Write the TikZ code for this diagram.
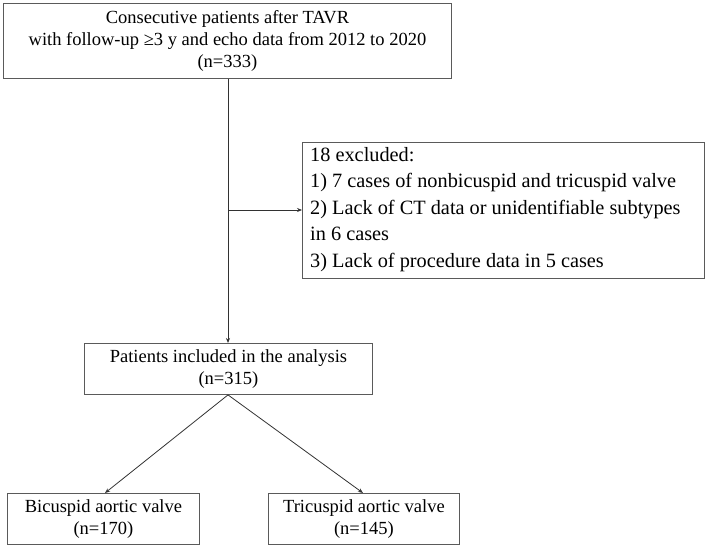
\documentclass[tikz,border=0pt]{standalone}
\usepackage{fontspec}
\setmainfont{Liberation Serif}
\usetikzlibrary{arrows.meta}
\definecolor{edge}{RGB}{90,90,90}
\definecolor{lin}{RGB}{50,50,50}
\tikzset{
  box/.style={draw=edge, line width=0.9pt, inner sep=0pt, align=center,
    font=\fontsize{18.5}{22}\selectfont, anchor=north west},
  conn/.style={draw=lin, line width=0.8pt, -{Stealth[length=5pt,width=4pt]}},
}
\begin{document}
\begin{tikzpicture}[x=1pt,y=-1pt]
\useasboundingbox (0,0) rectangle (709,548);
% top box
\node[box, minimum width=448pt, minimum height=75pt] (top) at (3,3)
  {Consecutive patients after TAVR\\with follow-up ≥3 y and echo data from 2012 to 2020\\(n=333)};
% exclusion box
\node[box, minimum width=402pt, minimum height=136pt] (excl) at (302,142) {};
\node[anchor=north west, align=left, inner sep=0pt,
  font=\fontsize{20.3}{26.5}\selectfont] (excltext) at (310,147)
  {18 excluded:\\1) 7 cases of nonbicuspid and tricuspid valve\\2) Lack of CT data or unidentifiable subtypes\\in 6 cases\\3) Lack of procedure data in 5 cases};
% patients box
\node[box, minimum width=288pt, minimum height=51pt] (pat) at (84,343)
  {Patients included in the analysis\\(n=315)};
% bottom boxes
\node[box, minimum width=192pt, minimum height=51pt] (bic) at (7,493)
  {Bicuspid aortic valve\\(n=170)};
\node[box, minimum width=191pt, minimum height=51pt] (tri) at (268,493)
  {Tricuspid aortic valve\\(n=145)};
% connectors
\coordinate (br) at (228,210);
\coordinate (bicend) at (105,493);
\coordinate (triend) at (363,493);
\draw[conn] (top.south -| br) -- (pat.north -| br);
\draw[conn] (br) -- (br -| excl.west);
\draw[conn] (pat.south -| br) -- (bicend);
\draw[conn] (pat.south -| br) -- (triend);
\end{tikzpicture}
\end{document}
